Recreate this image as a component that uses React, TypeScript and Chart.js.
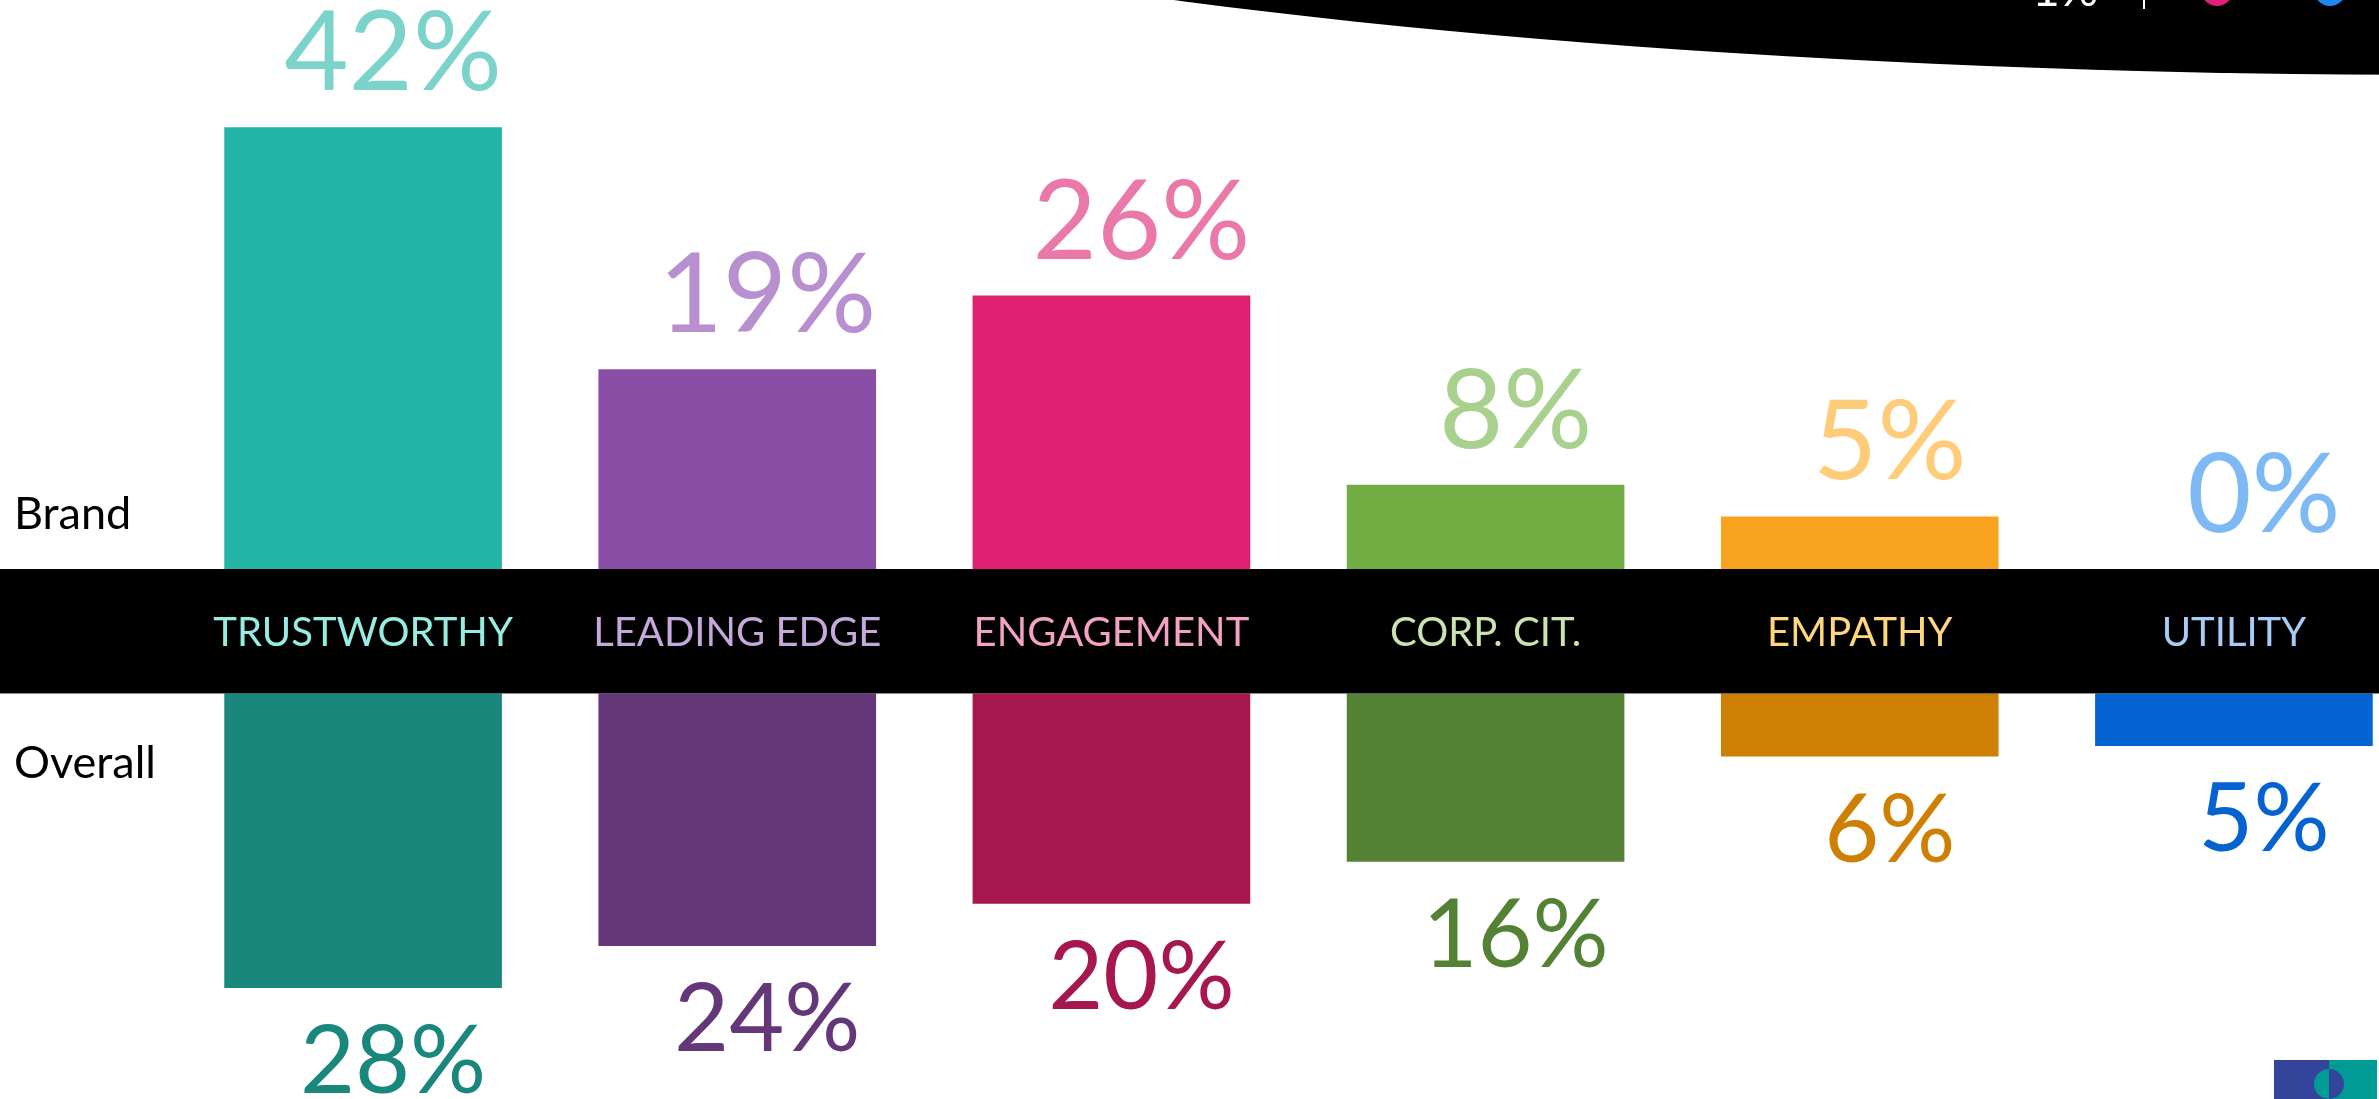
import { useEffect, useRef } from "react";
import { Chart, registerables } from "chart.js";

Chart.register(...registerables);

const categories = ["TRUSTWORTHY", "LEADING EDGE", "ENGAGEMENT", "CORP. CIT.", "EMPATHY", "UTILITY"];
const brandValues = [42, 19, 26, 8, 5, 0];
const overallValues = [28, 24, 20, 16, 6, 5];
const rowLabels = ["Brand", "Overall"];

const brandColors = ["#23B4A6", "#894EA5", "#E02070", "#72AD44", "#F7A31F", "#0563D1"];
const overallColors = ["#1A877C", "#643779", "#A61750", "#548235", "#CE8005", "#0563D1"];
const brandLabelColors = ["#7BD3C9", "#B890D0", "#EA78A9", "#A9D18E", "#FFCC7A", "#7DB9F5"];
const overallLabelColors = ["#1A877C", "#643779", "#A61750", "#548235", "#CE8005", "#0563D1"];
const categoryLabelColors = ["#98EDE2", "#C6A8DC", "#F2A2C4", "#CBE3AE", "#FFD680", "#A6CDF5"];

const FONT = "Lato, 'Noto Sans', sans-serif";

const decorPlugin = {
  id: "decor",
  beforeDatasetsDraw(chart: any) {
    const ctx = chart.ctx as CanvasRenderingContext2D;
    ctx.save();
    // big black ellipse at top right
    ctx.fillStyle = "#000";
    ctx.beginPath();
    ctx.ellipse(2450, -300, 2128, 375, 0, 0, Math.PI * 2);
    ctx.fill();
    // cropped header bits
    ctx.fillStyle = "#fff";
    ctx.font = `48px ${FONT}`;
    ctx.textBaseline = "alphabetic";
    ctx.textAlign = "left";
    ctx.fillText("1%", 2032, 6);
    ctx.fillRect(2143, 0, 2, 9);
    ctx.fillStyle = "#E0207A";
    ctx.beginPath();
    ctx.arc(2217, -10, 16, 0, Math.PI * 2);
    ctx.fill();
    ctx.fillStyle = "#1E88F0";
    ctx.beginPath();
    ctx.arc(2330, -10, 16, 0, Math.PI * 2);
    ctx.fill();
    // logo bottom right
    ctx.fillStyle = "#33449A";
    ctx.fillRect(2274, 1060, 55, 40);
    ctx.fillStyle = "#009B95";
    ctx.fillRect(2329, 1060, 48, 40);
    ctx.beginPath();
    ctx.arc(2329, 1084, 15, Math.PI / 2, (Math.PI * 3) / 2);
    ctx.fill();
    ctx.fillStyle = "#33449A";
    ctx.beginPath();
    ctx.arc(2329, 1084, 15, -Math.PI / 2, Math.PI / 2);
    ctx.fill();
    ctx.restore();
  },
  afterDatasetsDraw(chart: any) {
    const ctx = chart.ctx as CanvasRenderingContext2D;
    const xs = chart.scales.x;
    const bandTop = chart.scales.y.getPixelForValue(0);
    const bandBottom = chart.scales.y2.getPixelForValue(0);
    ctx.save();
    // black band
    ctx.fillStyle = "#000";
    ctx.fillRect(0, bandTop, 2379, bandBottom - bandTop);
    // category labels
    const mid = (bandTop + bandBottom) / 2;
    ctx.font = `40px ${FONT}`;
    ctx.textAlign = "center";
    ctx.textBaseline = "alphabetic";
    categories.forEach((c, i) => {
      ctx.fillStyle = categoryLabelColors[i];
      ctx.fillText(c, xs.getPixelForValue(i), mid + 14.5);
    });
    // row labels
    ctx.fillStyle = "#000";
    ctx.font = `45px ${FONT}`;
    ctx.textAlign = "left";
    ctx.fillText(rowLabels[0], 14, 529);
    ctx.fillText(rowLabels[1], 14, 778);
    // value labels
    const m0 = chart.getDatasetMeta(0);
    const m1 = chart.getDatasetMeta(1);
    ctx.textAlign = "center";
    ctx.font = `111px ${FONT}`;
    m0.data.forEach((bar: any, i: number) => {
      ctx.fillStyle = brandLabelColors[i];
      ctx.fillText(`${brandValues[i]}%`, bar.x + 30, bar.y - 37);
    });
    ctx.font = `95px ${FONT}`;
    m1.data.forEach((bar: any, i: number) => {
      ctx.fillStyle = overallLabelColors[i];
      ctx.fillText(`${overallValues[i]}%`, bar.x + 30, bar.y + 37 + 68);
    });
    ctx.restore();
  },
};

export default function App() {
  const ref = useRef<HTMLCanvasElement | null>(null);
  useEffect(() => {
    if (!ref.current) return;
    const chart = new Chart(ref.current, {
      type: "bar",
      data: {
        labels: categories,
        datasets: [
          {
            label: rowLabels[0],
            data: brandValues,
            backgroundColor: brandColors,
            yAxisID: "y",
            grouped: false,
            borderWidth: 0,
          } as any,
          {
            label: rowLabels[1],
            data: overallValues,
            backgroundColor: overallColors,
            yAxisID: "y2",
            grouped: false,
            borderWidth: 0,
          } as any,
        ],
      },
      options: {
        responsive: false,
        animation: false,
        maintainAspectRatio: false,
        layout: { padding: { left: 176, right: 79, top: 0, bottom: 0 } },
        datasets: { bar: { categoryPercentage: 1, barPercentage: 0.742 } } as any,
        plugins: { legend: { display: false }, tooltip: { enabled: false } },
        scales: {
          x: { display: false, offset: true },
          y: { display: false, min: -50.38, max: 54.09 },
          y2: { display: false, reverse: true, min: -65.92, max: 38.55 },
        },
      },
      plugins: [decorPlugin],
    });
    return () => chart.destroy();
  }, []);
  return (
    <div
      style={{
        position: "fixed",
        left: 0,
        top: 0,
        width: 2379,
        height: 1099,
        overflow: "hidden",
        background: "#fff",
      }}
    >
      <canvas ref={ref} width={2500} height={1099} style={{ display: "block" }} />
    </div>
  );
}
